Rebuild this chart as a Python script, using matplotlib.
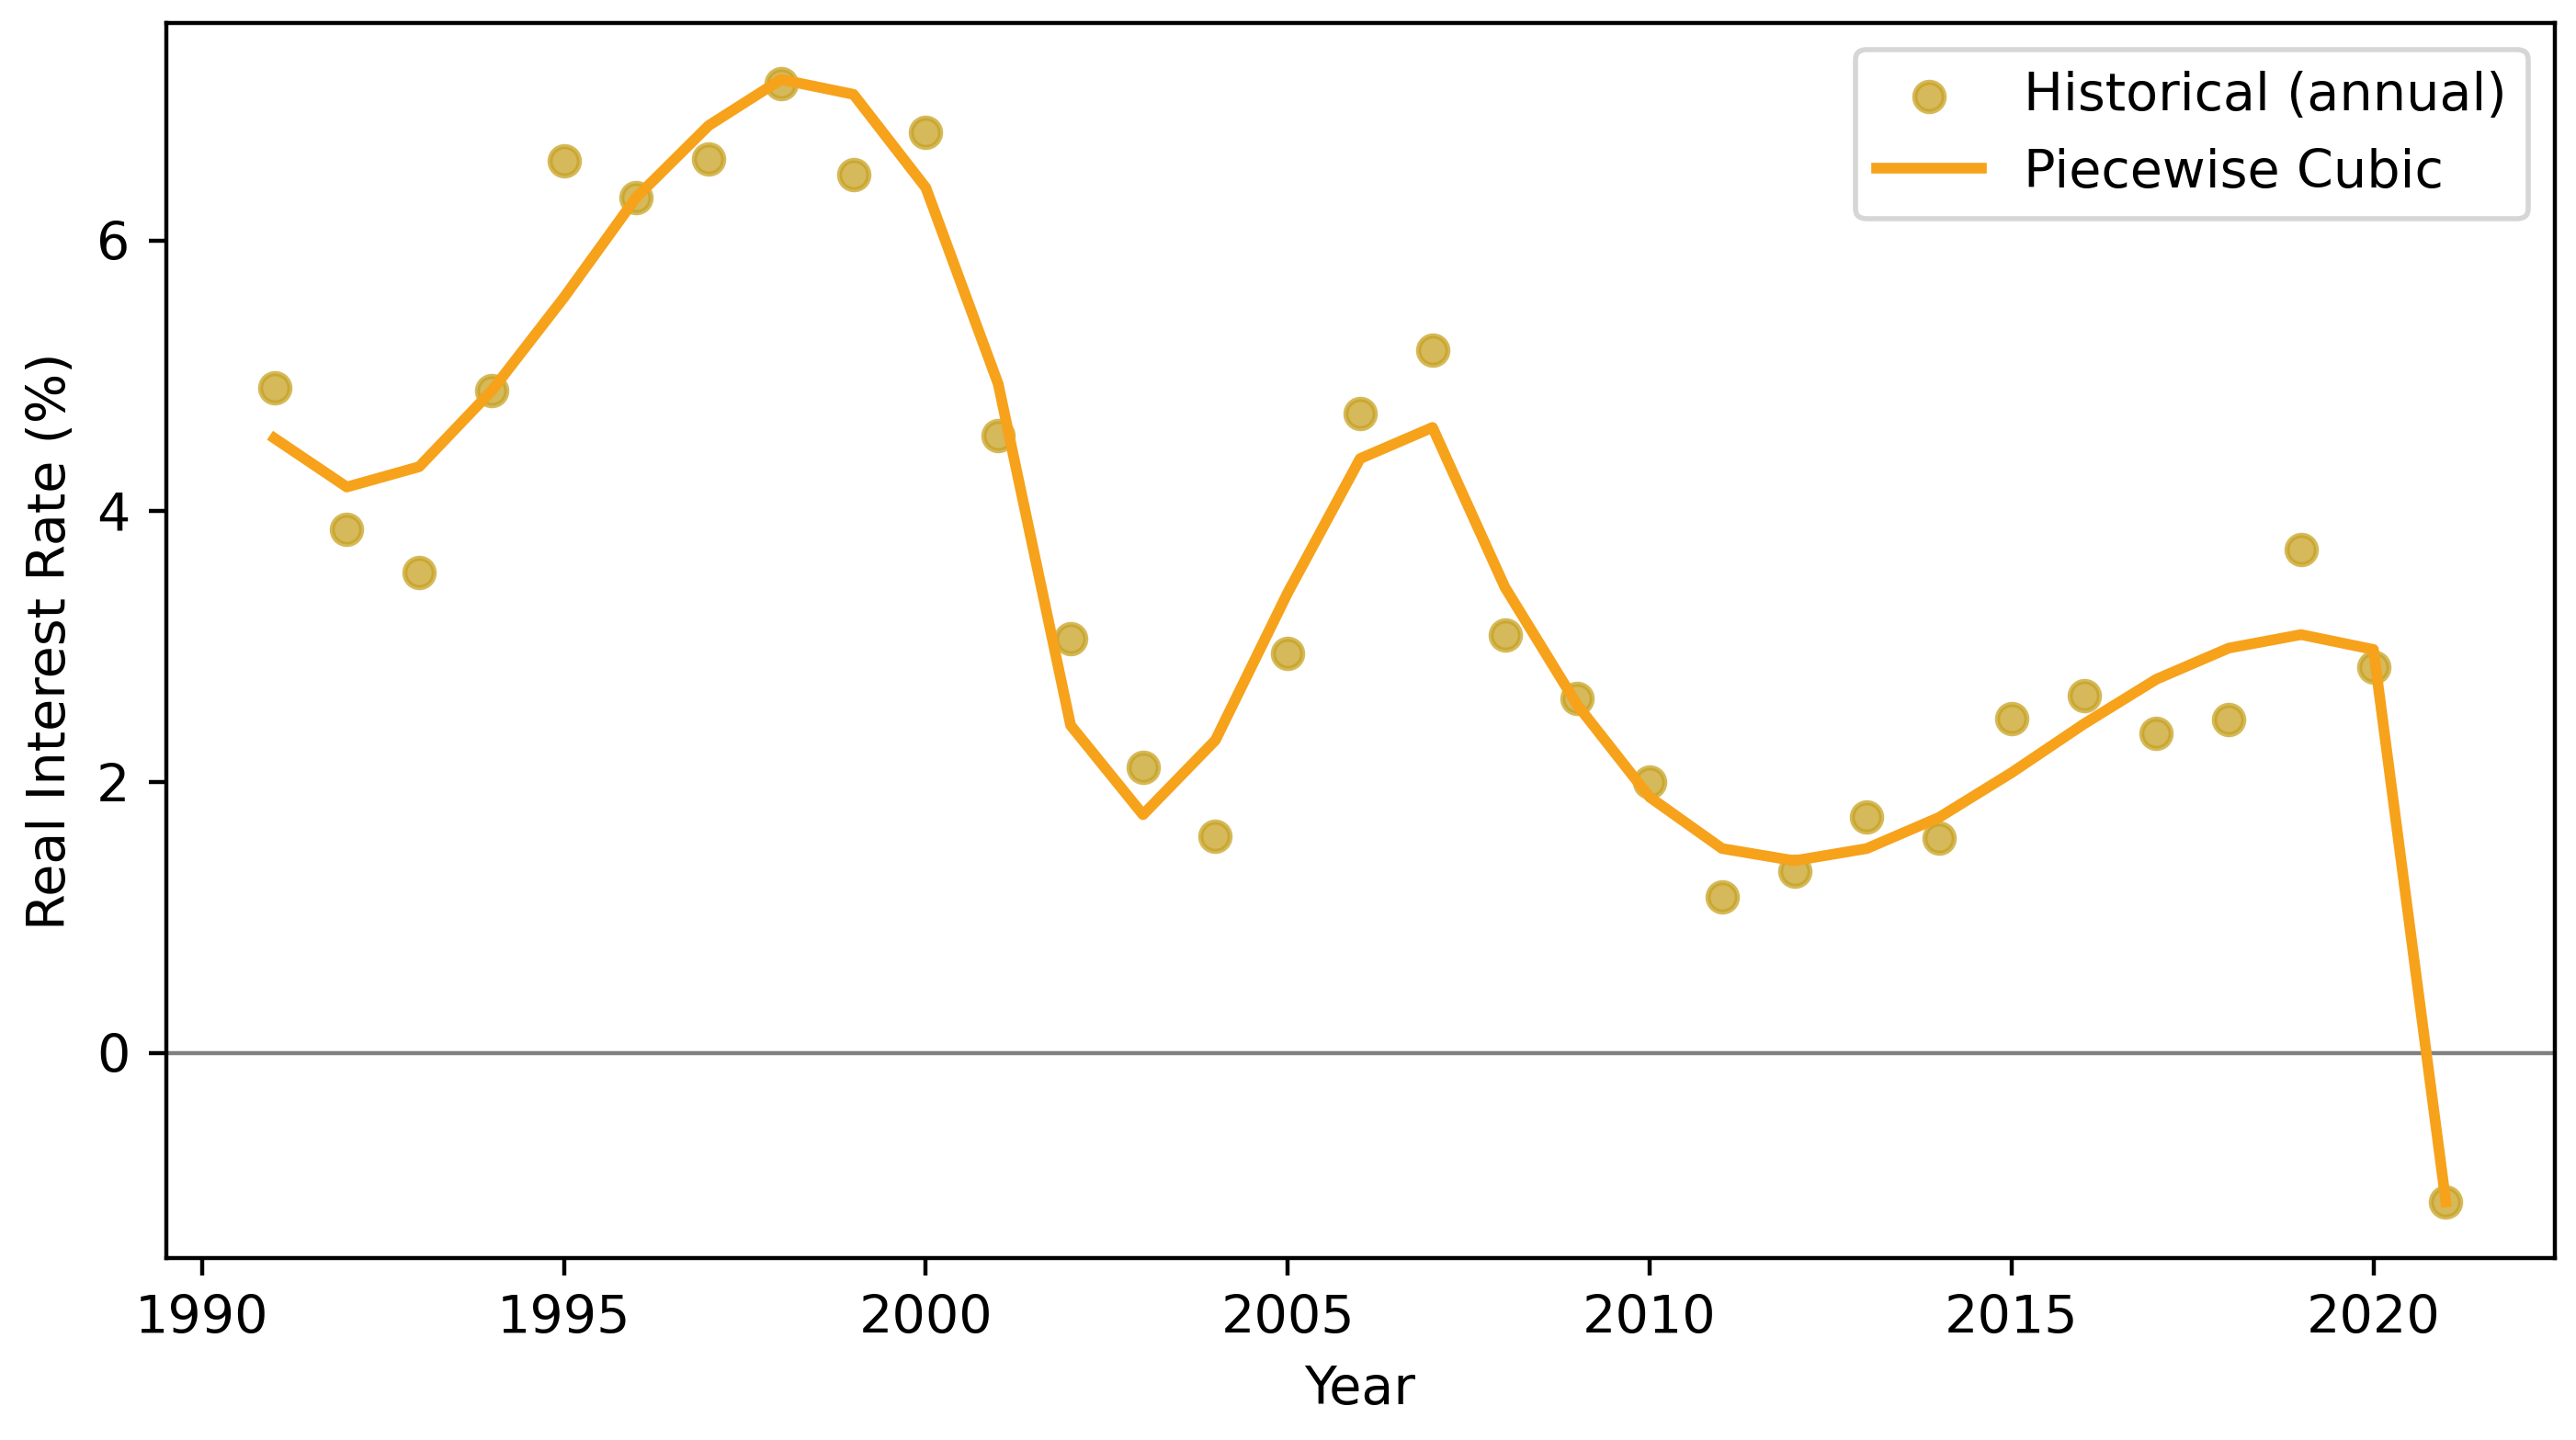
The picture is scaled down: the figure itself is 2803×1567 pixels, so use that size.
import numpy as np
import matplotlib
matplotlib.use("Agg")
import matplotlib.pyplot as plt

# annual observations
years = np.arange(1991, 2022)
historical = [4.91, 3.87, 3.55, 4.89, 6.59, 6.32, 6.60, 7.16, 6.49, 6.80,
              4.56, 3.06, 2.11, 1.60, 2.95, 4.72, 5.19, 3.09, 2.62, 2.00,
              1.15, 1.34, 1.74, 1.59, 2.47, 2.64, 2.36, 2.46, 3.72, 2.85,
              -1.10]

# fitted piecewise cubic, evaluated at the same years
fitted = [4.54, 4.18, 4.33, 4.89, 5.58, 6.32, 6.85, 7.19, 7.08, 6.39,
          4.94, 2.42, 1.76, 2.31, 3.40, 4.39, 4.62, 3.44, 2.57, 1.89,
          1.51, 1.42, 1.51, 1.74, 2.07, 2.43, 2.76, 2.99, 3.09, 2.98,
          -1.10]

plt.rcParams['font.size'] = 10.3

fig = plt.figure(figsize=(2803 / 400, 1567 / 400), dpi=400)
ax = fig.add_axes([180.5 / 2803, 1 - 1369 / 1567,
                   (2779.5 - 180.5) / 2803, (1369 - 25.4) / 1567])

ax.scatter(years, historical, s=33, color='#c7a223', alpha=0.75,
           label='Historical (annual)', zorder=2)
ax.plot(years, fitted, color='#f7a21b', lw=2.1, label='Piecewise Cubic', zorder=3)
ax.axhline(0, color='gray', lw=0.8, zorder=1)

ax.set_xlabel('Year')
ax.set_ylabel('Real Interest Rate (%)')
ax.legend(loc='upper right')

fig.savefig('out.png', dpi=400)
